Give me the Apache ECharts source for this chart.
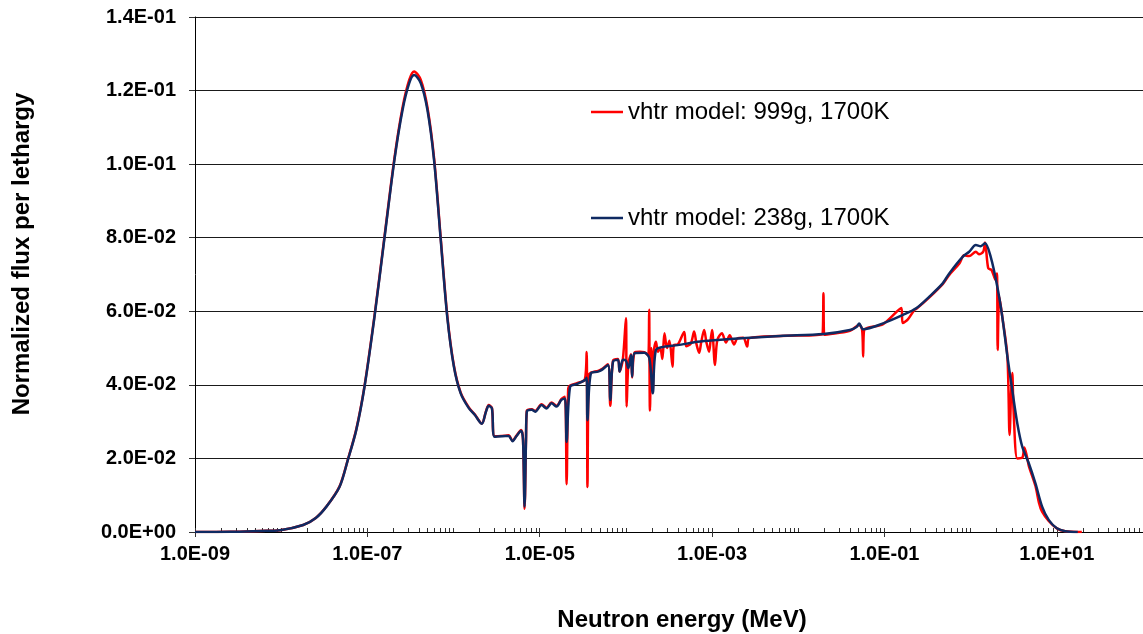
<!DOCTYPE html>
<html>
<head>
<meta charset="utf-8">
<script src="https://cdn.jsdelivr.net/npm/echarts@6/dist/echarts.min.js"></script>
<style>
	html, body { margin: 0; padding: 0; background: #ffffff; }
	#myCharts { width: 1143px; height: 634px; }
</style>
</head>
<body>
<div id="myCharts"></div>
<script>
	// series names (legend)
	var seriesNames = ['vhtr model: 999g, 1700K', 'vhtr model: 238g, 1700K'];

	// 999g run (red) : energy in MeV, normalized flux per lethargy
	var energy999 = [1e-9, 2.56e-9, 5.7e-9, 9.7e-9, 1.8e-8, 2.52e-8, 3.35e-8, 4.76e-8, 5.94e-8, 7.43e-8,
		9.27e-8, 1.21e-7, 1.57e-7, 2.06e-7, 2.56e-7, 3.06e-7, 3.49e-7, 4.17e-7, 4.98e-7, 5.94e-7,
		7.1e-7, 8.45e-7, 1.01e-6, 1.21e-6, 1.51e-6, 1.77e-6, 2.13e-6, 2.37e-6, 2.56e-6, 2.79e-6,
		3.0e-6, 3.99e-6, 4.36e-6, 4.84e-6, 5.38e-6, 6.09e-6, 6.4e-6, 6.67e-6, 6.93e-6, 7.08e-6,
		8.09e-6, 8.85e-6, 1.05e-5, 1.2e-5, 1.37e-5, 1.57e-5, 1.78e-5, 1.96e-5, 2.05e-5, 2.14e-5,
		2.25e-5, 2.67e-5, 3.34e-5, 3.5e-5, 3.58e-5, 3.7e-5, 3.92e-5, 4.75e-5, 5.19e-5, 6.19e-5,
		6.59e-5, 7.08e-5, 8.09e-5, 8.45e-5, 9.22e-5, 1.0e-4, 1.02e-4, 1.07e-4, 1.15e-4, 1.18e-4,
		1.26e-4, 1.45e-4, 1.64e-4, 1.82e-4, 1.86e-4, 1.9e-4, 1.97e-4, 2.05e-4, 2.12e-4, 2.23e-4,
		2.35e-4, 2.5e-4, 2.65e-4, 2.8e-4, 3.0e-4, 3.2e-4, 3.48e-4, 3.6e-4, 4.0e-4, 4.75e-4,
		5.0e-4, 5.66e-4, 6.19e-4, 6.6e-4, 7.08e-4, 7.5e-4, 8.09e-4, 8.6e-4, 9.22e-4, 9.6e-4,
		1.0e-3, 1.08e-3, 1.15e-3, 1.3e-3, 1.45e-3, 1.6e-3, 1.8e-3, 1.96e-3, 2.3e-3, 2.55e-3,
		2.7e-3, 6.18e-3, 1.9e-2, 1.96e-2, 2.0e-2, 3.97e-2, 5.09e-2, 5.5e-2, 5.66e-2, 5.8e-2,
		9.64e-2, 0.157, 0.163, 0.187, 0.223, 0.233, 0.332, 0.474, 0.565, 0.74,
		0.84, 0.96, 1.15, 1.25, 1.4, 1.47, 1.6, 1.75, 1.95, 2.02,
		2.06, 2.15, 2.33, 2.67, 2.83, 2.95, 3.04, 3.15, 3.48, 3.97,
		4.2, 4.5, 4.73, 5.65, 6.2, 6.75, 8.05, 10, 12.5, 19.5];
	var flux999 = [0, 0.00005, 0.0003, 0.0005, 0.0019, 0.0038, 0.0069, 0.0124, 0.0197, 0.0279,
		0.0397, 0.0588, 0.0798, 0.1016, 0.1154, 0.1229, 0.1252, 0.1229, 0.1154, 0.1017,
		0.0799, 0.0589, 0.0452, 0.0379, 0.0338, 0.0319, 0.0295, 0.0327, 0.0345, 0.0337,
		0.0260, 0.0262, 0.0263, 0.0248, 0.0262, 0.0277, 0.0250, 0.0063, 0.0250, 0.0330,
		0.0334, 0.0329, 0.0347, 0.0338, 0.0352, 0.0343, 0.0361, 0.0368, 0.0130, 0.0390,
		0.0398, 0.0404, 0.0415, 0.0489, 0.0122, 0.0425, 0.0433, 0.0438, 0.0442, 0.0456,
		0.0343, 0.0465, 0.0470, 0.0436, 0.0470, 0.0581, 0.0341, 0.0460, 0.0483, 0.0420,
		0.0488, 0.0490, 0.0489, 0.0480, 0.0604, 0.0330, 0.0500, 0.0385, 0.0496, 0.0517,
		0.0490, 0.0500, 0.0470, 0.0540, 0.0500, 0.0520, 0.0449, 0.0508, 0.0510, 0.0544,
		0.0505, 0.0512, 0.0545, 0.0510, 0.0487, 0.0518, 0.0549, 0.0515, 0.0490, 0.0520,
		0.0549, 0.0454, 0.0522, 0.0540, 0.0515, 0.0535, 0.0510, 0.0526, 0.0528, 0.0504,
		0.0527, 0.0533, 0.0537, 0.0649, 0.0536, 0.0547, 0.0563, 0.0550, 0.0477, 0.0548,
		0.0565, 0.0609, 0.0568, 0.0578, 0.0604, 0.0606, 0.0638, 0.0674, 0.0699, 0.0730,
		0.0752, 0.0750, 0.0762, 0.0755, 0.0762, 0.0787, 0.0717, 0.0712, 0.0685, 0.0703,
		0.0495, 0.0640, 0.0585, 0.0477, 0.0264, 0.0380, 0.0432, 0.0330, 0.0200, 0.0202,
		0.0230, 0.0205, 0.0180, 0.0125, 0.0080, 0.0055, 0.0030, 0.0010, 0.0002, 0];

	// 238g run (navy)
	var energy238 = [1e-9, 2.56e-9, 5.7e-9, 9.7e-9, 1.8e-8, 2.52e-8, 3.35e-8, 4.76e-8, 5.94e-8, 7.43e-8,
		9.27e-8, 1.21e-7, 1.57e-7, 2.06e-7, 2.56e-7, 3.06e-7, 3.49e-7, 4.17e-7, 4.98e-7, 5.94e-7,
		7.1e-7, 8.45e-7, 1.01e-6, 1.21e-6, 1.51e-6, 1.77e-6, 2.13e-6, 2.37e-6, 2.56e-6, 2.79e-6,
		3.0e-6, 3.99e-6, 4.36e-6, 4.84e-6, 5.38e-6, 6.09e-6, 6.4e-6, 6.67e-6, 6.93e-6, 7.08e-6,
		8.09e-6, 8.85e-6, 1.05e-5, 1.2e-5, 1.37e-5, 1.57e-5, 1.78e-5, 1.96e-5, 2.05e-5, 2.25e-5,
		2.67e-5, 3.34e-5, 3.5e-5, 3.58e-5, 3.92e-5, 4.75e-5, 5.19e-5, 6.19e-5, 6.59e-5, 7.08e-5,
		8.09e-5, 8.45e-5, 9.22e-5, 1.0e-4, 1.07e-4, 1.15e-4, 1.18e-4, 1.26e-4, 1.64e-4, 1.87e-4,
		2.05e-4, 2.23e-4, 2.8e-4, 3.98e-4, 6.76e-4, 1.15e-3, 1.96e-3, 6.18e-3, 1.96e-2, 3.97e-2,
		4.74e-2, 5.09e-2, 5.66e-2, 9.64e-2, 0.164, 0.233, 0.332, 0.474, 0.565, 0.807,
		0.962, 1.15, 1.31, 1.47, 1.71, 2.04, 2.33, 2.67, 3.04, 3.48,
		3.97, 4.73, 5.65, 6.75, 8.05, 10.0, 12.5, 17.5];
	var flux238 = [0, 0.00005, 0.0003, 0.0005, 0.0019, 0.0038, 0.0069, 0.0123, 0.0196, 0.0277,
		0.0395, 0.0585, 0.0794, 0.1011, 0.1147, 0.1220, 0.1242, 0.1220, 0.1147, 0.1011,
		0.0794, 0.0585, 0.0449, 0.0377, 0.0336, 0.0318, 0.0294, 0.0326, 0.0343, 0.0336,
		0.0259, 0.0261, 0.0261, 0.0247, 0.0261, 0.0275, 0.0250, 0.0069, 0.0250, 0.0327,
		0.0332, 0.0327, 0.0345, 0.0336, 0.0350, 0.0341, 0.0359, 0.0363, 0.0245, 0.0395,
		0.0402, 0.0413, 0.0419, 0.0304, 0.0431, 0.0436, 0.0440, 0.0454, 0.0359, 0.0463,
		0.0468, 0.0436, 0.0468, 0.0466, 0.0445, 0.0481, 0.0422, 0.0486, 0.0487, 0.0472,
		0.0377, 0.0495, 0.0504, 0.0508, 0.0517, 0.0522, 0.0526, 0.0533, 0.0538, 0.0549,
		0.0557, 0.0567, 0.0551, 0.0567, 0.0590, 0.0608, 0.0640, 0.0676, 0.0703, 0.0748,
		0.0762, 0.0780, 0.0777, 0.0785, 0.0748, 0.0667, 0.0585, 0.0477, 0.0386, 0.0295,
		0.0232, 0.0187, 0.0132, 0.0069, 0.0033, 0.0010, 0.0002, 0];

	// axis ticks (log10 of energy)
	var xLabelDecades = [-9, -7, -5, -3, -1, 1];

	var minorTicks = [];
	for (var n = -9; n <= 1; n++) {
		for (var k = 1; k <= 9; k++) {
			minorTicks.push(n + Math.log10(k));
		}
	}
	minorTicks.push(2);

	function pad2(e) {
		return ('0' + Math.abs(e)).slice(-2);
	}
	function xFmt(v) {
		var e = Math.round(v);
		return '1.0E' + (e < 0 ? '-' : '+') + pad2(e);
	}
	function yFmt(v) {
		if (v === 0) return '0.0E+00';
		var e = Math.floor(Math.log10(v) + 1e-9);
		var m = v / Math.pow(10, e);
		return m.toFixed(1) + 'E' + (e < 0 ? '-' : '+') + pad2(e);
	}
	function toPairs(es, vs) {
		return es.map(function (e, i) { return [Math.log10(e), vs[i]]; });
	}

	var font = '"Liberation Sans", Arial, sans-serif';
	var chart = echarts.init(document.getElementById('myCharts'));
	var option = {
		animation: false,
		backgroundColor: '#ffffff',
		grid: { left: 195, right: -5, top: 17, bottom: 102 },
		legend: [
			{
				data: [seriesNames[0]], left: 591, top: 100, padding: 0,
				icon: 'rect', itemWidth: 32, itemHeight: 2.5,
				textStyle: { fontSize: 24, color: '#000', fontFamily: font }
			},
			{
				data: [seriesNames[1]], left: 591, top: 206, padding: 0,
				icon: 'rect', itemWidth: 32, itemHeight: 2.5,
				textStyle: { fontSize: 24, color: '#000', fontFamily: font }
			}
		],
		graphic: [
			{
				type: 'text', x: 682, y: 620,
				style: {
					text: 'Neutron energy (MeV)', fill: '#000',
					font: 'bold 24px ' + font, textAlign: 'center', textVerticalAlign: 'middle'
				}
			},
			{
				type: 'text', x: 22, y: 254, rotation: Math.PI / 2,
				style: {
					text: 'Normalized flux per lethargy', fill: '#000',
					font: 'bold 24px ' + font, textAlign: 'center', textVerticalAlign: 'middle'
				}
			}
		],
		xAxis: [
			{
				type: 'value', min: -9, max: 2, interval: 1, position: 'bottom',
				axisLine: { onZero: false, lineStyle: { color: '#000', width: 1 } },
				axisTick: { show: true, inside: true, length: 4, customValues: minorTicks, lineStyle: { color: '#333' } },
				axisLabel: {
					customValues: xLabelDecades, formatter: xFmt, margin: 12,
					fontSize: 20, fontWeight: 'bold', color: '#000', fontFamily: font
				},
				splitLine: { show: false }
			},
			{
				type: 'value', min: -9, max: 2, interval: 1, position: 'bottom',
				axisLine: { show: false, onZero: false },
				axisTick: { show: true, inside: false, length: 5, customValues: xLabelDecades, lineStyle: { color: '#333' } },
				axisLabel: { show: false },
				splitLine: { show: false }
			}
		],
		yAxis: {
			type: 'value', min: 0, max: 0.14, interval: 0.02,
			axisLine: { show: true, onZero: false, lineStyle: { color: '#000', width: 1 } },
			axisTick: { show: true, length: 6, lineStyle: { color: '#333' } },
			axisLabel: {
				formatter: yFmt, margin: 19,
				fontSize: 20, fontWeight: 'bold', color: '#000', fontFamily: font
			},
			splitLine: { show: true, lineStyle: { color: '#1a1a1a', width: 1 } }
		},
		series: [
			{
				name: seriesNames[0], type: 'line', xAxisIndex: 0,
				data: toPairs(energy999, flux999),
				symbol: 'none', z: 2, smooth: 0.3,
				lineStyle: { color: '#ff0000', width: 2.5 },
				itemStyle: { color: '#ff0000' }
			},
			{
				name: seriesNames[1], type: 'line', xAxisIndex: 0,
				data: toPairs(energy238, flux238),
				symbol: 'none', z: 3, smooth: 0.3,
				lineStyle: { color: '#0f2a62', width: 2.5 },
				itemStyle: { color: '#0f2a62' }
			}
		]
	};
	chart.setOption(option);
</script>
</body>
</html>
